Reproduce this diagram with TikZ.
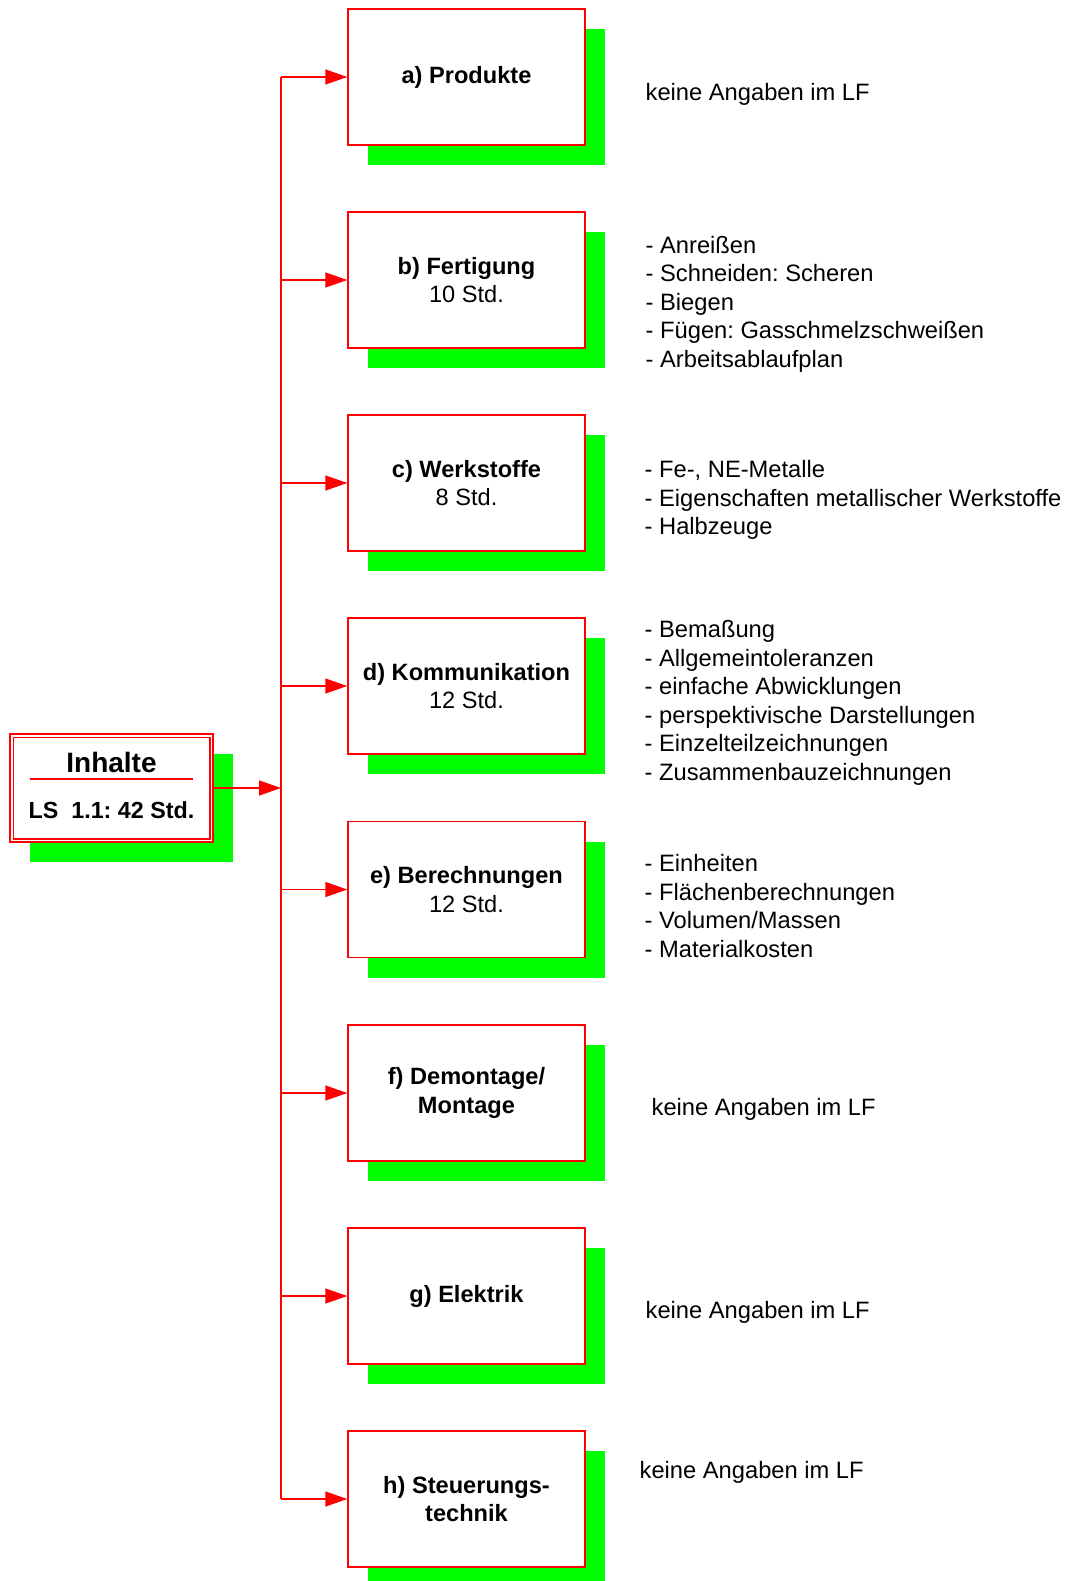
\documentclass[tikz,border=0pt]{standalone}
\usepackage{fontspec}
\setmainfont{Liberation Sans}
\frenchspacing
\usetikzlibrary{arrows.meta,shadows}
\definecolor{boxred}{RGB}{255,0,0}
\definecolor{shadegreen}{RGB}{0,255,0}
\begin{document}
\begin{tikzpicture}[x=1pt,y=-1pt,
  topic/.style={draw=boxred, line width=1.5pt, fill=white,
    minimum width=237pt, minimum height=136pt, inner sep=0pt, align=center,
    font=\fontsize{23.6}{28.5}\selectfont,
    general shadow={fill=shadegreen, shadow xshift=20pt, shadow yshift=-20pt}},
  link/.style={draw=boxred, line width=1.5pt, -{Triangle[length=22pt,width=15pt]}},
  spine/.style={draw=boxred, line width=1.5pt},
  note/.style={anchor=west, align=left, inner sep=0pt,
    font=\fontsize{23.7}{28.5}\selectfont}]
\useasboundingbox (0,0) rectangle (1069,1581);

% summary box on the left
\node[draw=boxred, line width=1.5pt, fill=white, minimum width=203pt, minimum height=108pt,
  inner sep=0pt, general shadow={fill=shadegreen, shadow xshift=20pt, shadow yshift=-20pt}]
  (inh) at (111.5,788) {};
\draw[boxred, line width=1.5pt] ([shift={(4,-4)}]inh.south west) rectangle ([shift={(-4,4)}]inh.north east);
\draw[boxred, line width=1.5pt] (30,779) -- (193,779);
\node[inner sep=0pt, font=\fontsize{28}{32}\selectfont\bfseries] (inhtitle) at (111.5,762) {Inhalte};
\node[inner sep=0pt, font=\fontsize{23.3}{28}\selectfont\bfseries] (inhsum) at (111.5,810) {LS\ \ 1.1: 42 Std.};

% topic boxes
\node[topic] (a) at (466.5,77)   {\textbf{a) Produkte}};
\node[topic] (b) at (466.5,280)  {\textbf{b) Fertigung}\\10 Std.};
\node[topic] (c) at (466.5,483)  {\textbf{c) Werkstoffe}\\8 Std.};
\node[topic] (d) at (466.5,686)  {\textbf{d) Kommunikation}\\12 Std.};
\node[topic] (e) at (466.5,889.5){\textbf{e) Berechnungen}\\12 Std.};
\node[topic] (f) at (466.5,1093) {\textbf{f) Demontage/}\\\textbf{Montage}};
\node[topic] (g) at (466.5,1296) {\textbf{g) Elektrik}};
\node[topic] (h) at (466.5,1499) {\textbf{h) Steuerungs-}\\\textbf{technik}};

% connectors
\coordinate (top) at (281,77);
\coordinate (bot) at (281,1499);
\draw[spine] (top) -- (bot);
\draw[link] (inh.east) -- (inh.east -| top);
\foreach \n in {a,b,c,d,e,f,g,h}
  \draw[link] (\n -| top) -- (\n.west);

% notes on the right
\node[note] (na) at (645.5,94)   {keine Angaben im LF};
\node[note] (nb) at (645.5,304)  {- Anreißen\\- Schneiden: Scheren\\- Biegen\\- Fügen: Gasschmelzschweißen\\- Arbeitsablaufplan};
\node[note] (nc) at (644.5,500)  {- Fe-, NE-Metalle\\- Eigenschaften metallischer Werkstoffe\\- Halbzeuge};
\node[note] (nd) at (644.5,703)  {- Bemaßung\\- Allgemeintoleranzen\\- einfache Abwicklungen\\- perspektivische Darstellungen\\- Einzelteilzeichnungen\\- Zusammenbauzeichnungen};
\node[note] (ne) at (644.5,906)  {- Einheiten\\- Flächenberechnungen\\- Volumen/Massen\\- Materialkosten};
\node[note] (nf) at (651.5,1109.5) {keine Angaben im LF};
\node[note] (ng) at (645.5,1312) {keine Angaben im LF};
\node[note] (nh) at (639.5,1472.5) {keine Angaben im LF};
\end{tikzpicture}
\end{document}
